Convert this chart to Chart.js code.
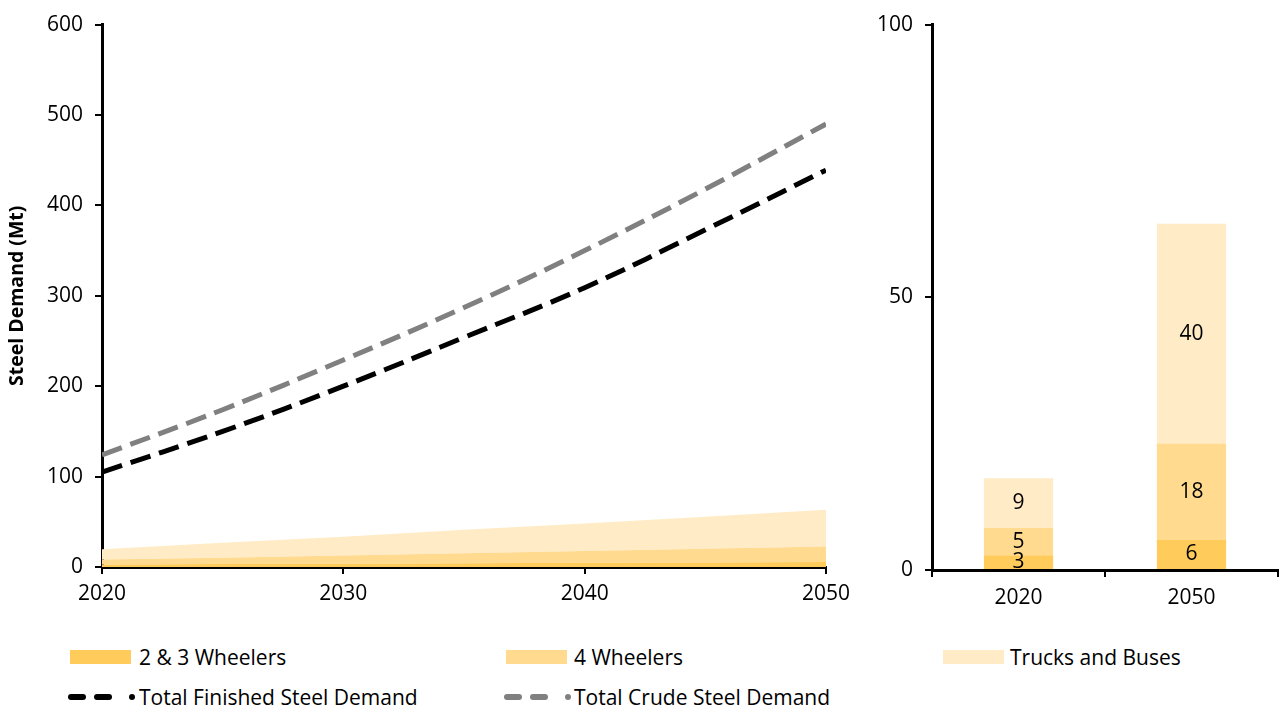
<!DOCTYPE html>
<html>
<head>
<meta charset="utf-8">
<script src="https://cdn.jsdelivr.net/npm/chart.js@4.4.0/dist/chart.umd.min.js"></script>
<style>
  body { margin: 0; background: #fff; font-family: "Open Sans", sans-serif; }
  #wrap { position: relative; width: 1280px; height: 711px; overflow: hidden; }
  #left { position: absolute; left: 0; top: 0; }
  #right { position: absolute; left: 860px; top: 0; }
  .leg { position: absolute; font-size: 21px; color: #000; line-height: 24px; white-space: nowrap; }
  .sw { position: absolute; width: 61px; height: 14px; }
</style>
</head>
<body>
<div id="wrap">
  <canvas id="left" width="870" height="620"></canvas>
  <canvas id="right" width="420" height="620"></canvas>

  <div class="sw" style="left:70px;top:650px;background:#FFCB5B"></div>
  <div class="leg" style="left:139px;top:645px">2 &amp; 3 Wheelers</div>
  <div class="sw" style="left:506px;top:650px;background:#FFDA8F"></div>
  <div class="leg" style="left:574px;top:645px">4 Wheelers</div>
  <div class="sw" style="left:943px;top:650px;background:#FFEBC6"></div>
  <div class="leg" style="left:1010px;top:645px">Trucks and Buses</div>

  <svg style="position:absolute;left:66px;top:690px" width="70" height="14">
    <rect x="2" y="4" width="18" height="6" rx="3" fill="#000"/>
    <rect x="28" y="4" width="18" height="6" rx="3" fill="#000"/>
    <circle cx="66" cy="7" r="3" fill="#000"/>
  </svg>
  <div class="leg" style="left:139px;top:685px">Total Finished Steel Demand</div>
  <svg style="position:absolute;left:502px;top:690px" width="70" height="14">
    <rect x="2" y="4" width="18" height="6" rx="3" fill="#808080"/>
    <rect x="28" y="4" width="18" height="6" rx="3" fill="#808080"/>
    <circle cx="66" cy="7" r="3" fill="#808080"/>
  </svg>
  <div class="leg" style="left:574px;top:685px">Total Crude Steel Demand</div>
</div>
<script>
// left chart: Mt of steel by year
const years = [2020, 2025, 2030, 2035, 2040, 2045, 2050];
const twoThree = [2.7, 3.2, 3.6, 4.1, 4.6, 5.0, 5.5];
const fourW = [5.5, 7.0, 9.0, 11.0, 13.0, 15.2, 17.3];
const trucks = [11.5, 16.5, 21.0, 26.0, 30.5, 35.5, 40.5];
const finished = [105, 150, 200, 254, 309, 373, 439];
const crude = [124, 174, 229, 287, 350, 418, 490];

// right chart: bars
const barCats = ["2020", "2050"];
const barTwoThree = [2.7, 5.5];
const barFourW = [5.0, 17.7];
const barTrucks = [9.1, 40.3];

const c1 = "#FFCB5B", c2 = "#FFDA8F", c3 = "#FFEBC6";
const font21 = { family: "Open Sans", size: 21 };
Chart.defaults.color = "#000";

function pts(vals) {
  return years.map((y, i) => ({ x: y, y: vals[i] }));
}

new Chart(document.getElementById("left"), {
  type: "line",
  data: {
    datasets: [
      { label: "Total Finished Steel Demand", data: pts(finished), stack: "f", order: 0,
        borderColor: "#000", borderWidth: 5, borderDash: [21, 9], fill: false, pointRadius: 0, tension: 0.4 },
      { label: "Total Crude Steel Demand", data: pts(crude), stack: "c", order: 0,
        borderColor: "#808080", borderWidth: 5, borderDash: [21, 9], fill: false, pointRadius: 0, tension: 0.4 },
      { label: "2 & 3 Wheelers", data: pts(twoThree), stack: "v", order: 1,
        borderWidth: 0, backgroundColor: c1, fill: "origin", pointRadius: 0 },
      { label: "4 Wheelers", data: pts(fourW), stack: "v", order: 1,
        borderWidth: 0, backgroundColor: c2, fill: "-1", pointRadius: 0 },
      { label: "Trucks and Buses", data: pts(trucks), stack: "v", order: 1,
        borderWidth: 0, backgroundColor: c3, fill: "-1", pointRadius: 0 }
    ]
  },
  options: {
    responsive: false,
    animation: false,
    layout: { padding: { top: 22, right: 44, left: 0, bottom: 0 } },
    plugins: { legend: { display: false }, tooltip: { enabled: false } },
    scales: {
      x: {
        type: "linear", min: 2020, max: 2050,
        ticks: { stepSize: 10, font: font21, padding: 7, callback: v => String(v) },
        grid: { drawOnChartArea: false, drawTicks: true, tickLength: 7, color: "#000", lineWidth: 2 },
        border: { color: "#000", width: 3 },
        afterFit: s => { s.height = 53; }
      },
      y: {
        stacked: true, min: 0, max: 600,
        ticks: { stepSize: 100, font: font21, padding: 12 },
        grid: { drawOnChartArea: false, drawTicks: true, tickLength: 7, color: "#000", lineWidth: 2 },
        border: { color: "#000", width: 3 },
        title: { display: true, text: "Steel Demand (Mt)", font: { family: "Open Sans", size: 19.5, weight: "bold" }, padding: { top: 6, bottom: 0 } },
        afterFit: s => { s.width = 102; }
      }
    }
  }
});

const barLabels = {
  id: "barLabels",
  afterDatasetsDraw(chart) {
    const ctx = chart.ctx;
    ctx.save();
    ctx.font = "21px 'Open Sans'";
    ctx.fillStyle = "#000";
    ctx.textAlign = "center";
    ctx.textBaseline = "middle";
    chart.data.datasets.forEach((ds, di) => {
      chart.getDatasetMeta(di).data.forEach((bar, i) => {
        const mid = (bar.y + bar.base) / 2;
        ctx.fillText(String(Math.round(ds.data[i])), bar.x, mid);
      });
    });
    ctx.restore();
  }
};

new Chart(document.getElementById("right"), {
  type: "bar",
  data: {
    labels: barCats,
    datasets: [
      { label: "2 & 3 Wheelers", data: barTwoThree, backgroundColor: c1 },
      { label: "4 Wheelers", data: barFourW, backgroundColor: c2 },
      { label: "Trucks and Buses", data: barTrucks, backgroundColor: c3 }
    ]
  },
  options: {
    responsive: false,
    animation: false,
    layout: { padding: { top: 22, right: 2, left: 0, bottom: 0 } },
    plugins: { legend: { display: false }, tooltip: { enabled: false } },
    datasets: { bar: { categoryPercentage: 1, barPercentage: 0.4 } },
    scales: {
      x: {
        stacked: true,
        ticks: { font: font21, padding: 8 },
        grid: { offset: true, drawOnChartArea: false, drawTicks: true, tickLength: 7, color: "#000", lineWidth: 2 },
        border: { color: "#000", width: 3 },
        afterFit: s => { s.height = 50; }
      },
      y: {
        stacked: true, min: 0, max: 100,
        ticks: { stepSize: 50, font: font21, padding: 12 },
        grid: { drawOnChartArea: false, drawTicks: true, tickLength: 7, color: "#000", lineWidth: 2 },
        border: { color: "#000", width: 3 },
        afterFit: s => { s.width = 72; }
      }
    }
  },
  plugins: [barLabels]
});
</script>
</body>
</html>
